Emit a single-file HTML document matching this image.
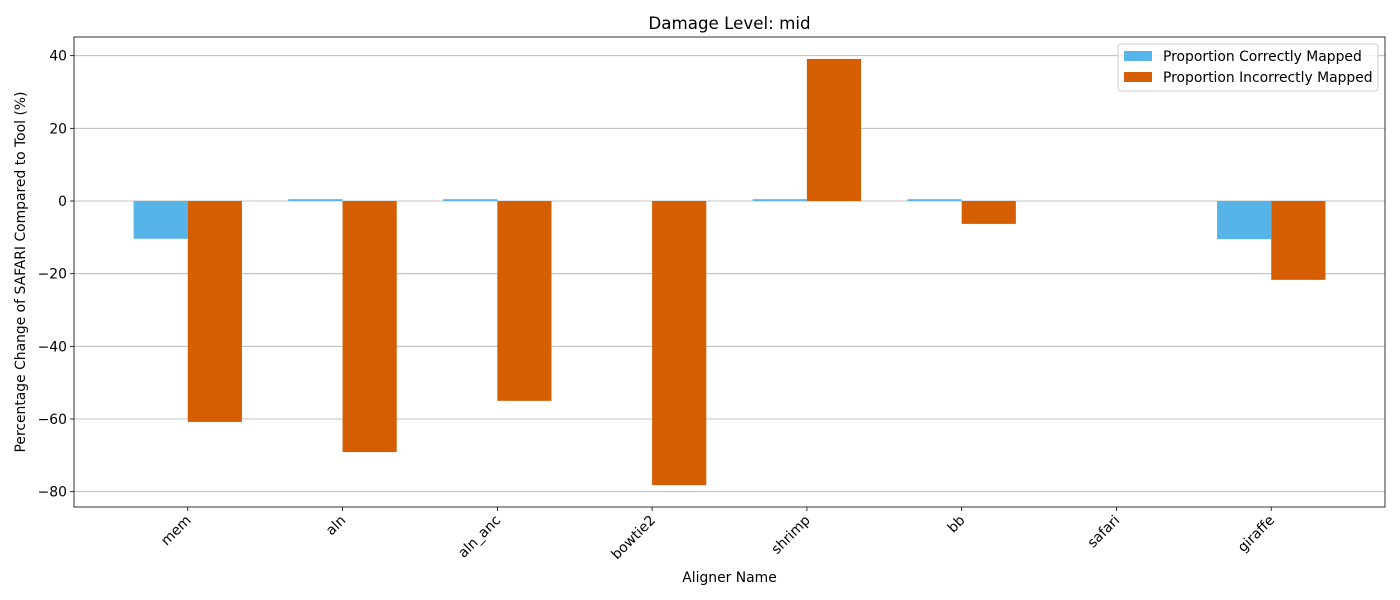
<!DOCTYPE html>
<html><head><meta charset="utf-8"><style>body{margin:0;background:#fff}svg{display:block;font-family:"DejaVu Sans","Liberation Sans",sans-serif}</style></head>
<body>
<svg id="chart" width="1400" height="600"></svg>
<script>
const categories=["mem","aln","aln_anc","bowtie2","shrimp","bb","safari","giraffe"];
const correctVals=[-10.4,0.5,0.5,0,0.5,0.5,0,-10.5];
const incorrectVals=[-60.8,-69.1,-55.0,-78.2,39.1,-6.3,0,-21.7];
const yTicks=[40,20,0,-20,-40,-60,-80];
const NS="http://www.w3.org/2000/svg";
const svg=document.getElementById('chart');
const L=74,R=1385,T=37,B=507;
const FS=13.9;
const xmin=-0.735,xmax=7.735;
const X=v=>L+(v-xmin)/(xmax-xmin)*(R-L);
const Y=v=>201-v*(492-56)/120;
function el(tag,attrs,parent){const e=document.createElementNS(NS,tag);for(const k in attrs)e.setAttribute(k,attrs[k]);(parent||svg).appendChild(e);return e;}
function txt(s,attrs){const e=el('text',attrs);e.textContent=s;return e;}
yTicks.forEach(v=>{
 const g=el('line',{x1:L,x2:R,y1:Y(v),y2:Y(v),stroke:'#b0b0b0','stroke-width':0.8});
 
 
 el('line',{x1:L-4,x2:L,y1:Y(v),y2:Y(v),stroke:'#000','stroke-width':0.8});
 const t=txt(String(v).replace('-','\u2212'),{x:L-7,y:Y(v)+5,'text-anchor':'end','font-size':FS,fill:'#000'});
 
 
});
const w=0.35;
categories.forEach((c,i)=>{
 [[correctVals[i],'#56b4e9',i-w/2,'bar-correct'],[incorrectVals[i],'#d55e00',i+w/2,'bar-incorrect']].forEach(([v,col,xc,nm])=>{
  const y0=Y(0),y1=Y(v);
  const r=el('rect',{x:X(xc-w/2),width:X(xc+w/2)-X(xc-w/2),y:Math.min(y0,y1),height:Math.abs(y1-y0),fill:col});
  
  
 });
 el('line',{x1:X(i),x2:X(i),y1:B,y2:B+4,stroke:'#000','stroke-width':0.8});
 const t=txt(c,{x:X(i)+4,y:B+14,'text-anchor':'end','font-size':FS,transform:`rotate(-45 ${X(i)+4} ${B+14})`});
 
 
});
const fr=el('rect',{x:L,y:T,width:R-L,height:B-T,fill:'none',stroke:'#000','stroke-width':0.8});


const ti=txt('Damage Level: mid',{x:(L+R)/2,y:29,'text-anchor':'middle','font-size':16.7});


const xt=txt('Aligner Name',{x:(L+R)/2,y:582,'text-anchor':'middle','font-size':FS});


const yt=txt('Percentage Change of SAFARI Compared to Tool (%)',{x:25,y:272,'text-anchor':'middle','font-size':FS,transform:'rotate(-90 25 272)'});


const lg=el('g',{});


el('rect',{x:1118,y:44,width:260,height:47,rx:3,fill:'#fff','fill-opacity':0.8,stroke:'#ccc'},lg);
[['Proportion Correctly Mapped','#56b4e9',50],['Proportion Incorrectly Mapped','#d55e00',71]].forEach(([s,c,y])=>{
 el('rect',{x:1124,y:y+1,width:28,height:10,fill:c},lg);
 const t=el('text',{x:1163,y:y+11,'font-size':FS},lg);t.textContent=s;
 
 
});
</script>
</body></html>
